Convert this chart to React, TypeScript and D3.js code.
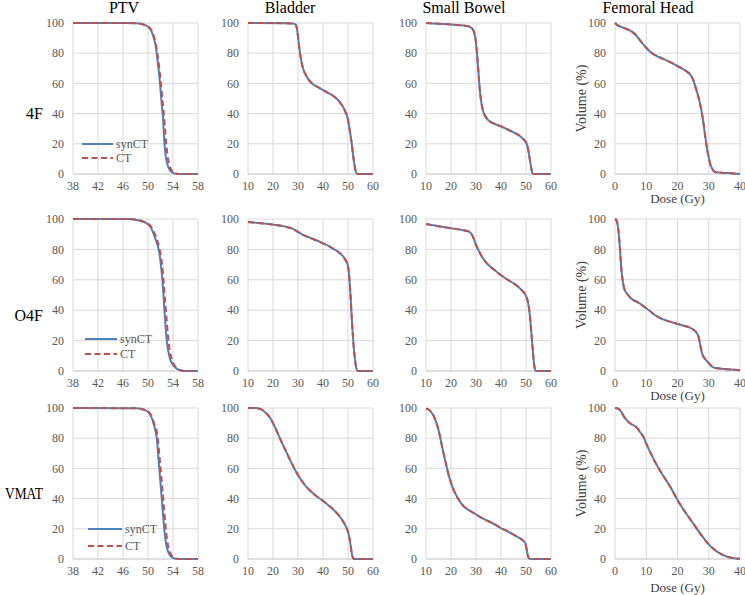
import React from "react";
import * as d3 from "d3";

type Pt = [number, number];

// ---------- Structure labels ----------
const structures = ["PTV", "Bladder", "Small Bowel", "Femoral Head"];
const plans = ["4F", "O4F", "VMAT"];
const seriesNames = ["synCT", "CT"];

// ---------- Axis ticks ----------
const ptvTicks = [38, 42, 46, 50, 54, 58];
const oarTicks = [10, 20, 30, 40, 50, 60];
const femTicks = [0, 10, 20, 30, 40];
const volTicks = [0, 20, 40, 60, 80, 100];

// ---------- PTV ----------
const ptv4F_synCT: Pt[] = [[38,100],[46,100],[48,99.8],[49,99.3],[50,97.5],[50.5,95],[51,89],[51.3,83],[51.5,76],[51.8,65],[52,56],[52.2,46],[52.4,37],[52.6,22],[52.8,13],[53,8],[53.3,4],[53.6,2],[54,0.8],[54.5,0.2],[55,0],[58,0]];
const ptv4F_CT: Pt[] = [[38,100],[46,100],[48,99.8],[49,99.4],[50,97.8],[50.5,95.5],[51,90.5],[51.3,85],[51.6,77],[52,63],[52.3,50],[52.5,41],[52.7,31],[52.9,21],[53.1,13],[53.4,6],[53.7,3],[54,1.5],[54.5,0.4],[55,0],[58,0]];
const ptvO4F_synCT: Pt[] = [[38,100],[47,100],[48,99.5],[49,98.5],[50,96.5],[50.5,94],[51,89],[51.5,83],[51.8,78],[52,72],[52.3,60],[52.6,42],[52.8,30],[53,20],[53.3,12],[53.6,7],[54,4],[54.5,1.8],[55,0.7],[55.5,0.1],[56,0],[58,0]];
const ptvO4F_CT: Pt[] = [[38,100],[47,100],[48,99.6],[49,98.7],[50,97],[50.5,95],[51,91],[51.5,86],[51.8,81],[52.1,75],[52.4,64],[52.7,48],[53,33],[53.2,23],[53.5,13],[53.8,8],[54.2,4],[54.6,2],[55,0.9],[55.5,0.2],[56,0],[58,0]];
const ptvVMAT_synCT: Pt[] = [[38,100],[48,99.8],[49,99.3],[50,97.5],[50.5,94.5],[51,88],[51.4,80],[51.8,60],[52.2,40],[52.6,20],[52.9,10],[53.2,5],[53.6,2],[54,0.8],[54.6,0.1],[55,0],[58,0]];
const ptvVMAT_CT: Pt[] = [[38,100],[48,99.8],[49,99.4],[50,97.8],[50.5,95.2],[51,89.5],[51.5,82],[51.9,65],[52.3,47],[52.6,32],[52.9,18],[53.2,9],[53.5,4.5],[53.9,1.8],[54.3,0.6],[55,0],[58,0]];

// ---------- Bladder ----------
const bladder4F: Pt[] = [[10,100],[25,99.9],[28,99.6],[29,99],[29.5,97],[30,91],[30.5,84],[31,78],[32,70],[33,66],[34,63],[36,59.5],[38,57.5],[40,55.6],[42,53.8],[44,51.8],[46,49],[47,47],[48,44.5],[49,41],[50,36],[50.5,31],[51,26],[51.5,20],[52,13],[52.5,7],[53,2.5],[53.5,0.2],[54,0],[60,0]];
const bladderO4F: Pt[] = [[10,98],[15,97.2],[20,96.3],[25,95],[28,93.5],[30,91.5],[32,89.5],[35,87.5],[38,85.5],[40,84],[42,82.5],[44,80.5],[46,78.5],[48,75.5],[49,73],[50,69],[50.5,62],[51,50],[51.5,35],[52,22],[52.5,12],[53,5],[53.5,1],[54,0],[60,0]];
const bladderVMAT: Pt[] = [[10,100],[13,100],[15,99.3],[17,97],[19,93],[21,86.5],[23,79],[25,72],[27,65],[29,58.5],[31,53],[33,48.5],[35,45],[37,42],[40,38.5],[42,35.8],[44,33],[46,29.5],[47,27.5],[48,25],[49,22],[50,18],[50.8,12],[51.3,6],[51.8,1.5],[52.3,0.2],[53,0],[60,0]];

// ---------- Small Bowel ----------
const bowel4F: Pt[] = [[10,100],[15,99.5],[20,99],[25,98.3],[27,97.8],[28,97],[29,95],[29.5,92],[30,87],[30.5,78],[31,67],[31.5,56],[32,49],[32.5,44],[33,41],[34,37.5],[35,35.5],[37,33.5],[40,31.5],[43,29.2],[45,27.6],[47,25.8],[48,24.5],[49,23],[50,21],[50.5,19],[51,15],[51.5,10],[52,5],[52.4,1.5],[52.7,0],[60,0]];
const bowelO4F: Pt[] = [[10,96.7],[15,95.2],[20,93.9],[25,92.6],[27,91.8],[28,90.5],[29,87.5],[30,83],[31,79.5],[32,76.3],[33,73.5],[34,71.5],[35,69.7],[37,67],[40,63],[43,59.7],[45,57.7],[47,55.2],[48,53.7],[49,52],[50,49.5],[50.7,46],[51.3,40],[51.8,32],[52.3,22],[52.8,12],[53.2,5],[53.6,1],[54,0],[60,0]];
const bowelVMAT: Pt[] = [[10,99.5],[11,99],[12,97.5],[13,95],[14,91],[15,85.5],[16,78],[17,70],[18,63],[19,56],[20,50.5],[21,46],[22,42.5],[23,39.5],[25,35],[27,32.5],[30,29.5],[33,26.5],[35,25],[38,22.5],[40,20.5],[43,18],[45,16.2],[47,14.3],[48,13.3],[49,12],[49.8,10],[50.3,6],[50.7,2.5],[51.2,0.5],[52,0],[60,0]];

// ---------- Femoral Head ----------
const femur4F: Pt[] = [[0,100],[1,98.2],[2,97.4],[3,96.6],[4,95.8],[5,94.8],[6,93.3],[7,91.3],[8,88.5],[9,86],[10,83.6],[11,81.5],[12,79.8],[13,78.5],[15,76.6],[17,74.8],[20,71.5],[22,69.2],[23,67.8],[24,66],[25,62.5],[26,56],[27,48.5],[28,38],[29,23],[29.5,16],[30,11],[30.5,6.5],[31,4],[31.5,2.2],[32,1.3],[34,0.9],[36,0.6],[38,0.3],[40,0]];
const femurO4F: Pt[] = [[0,100],[0.5,99],[1,94],[1.5,83],[2,68],[2.5,59],[3,54],[4,50.5],[5,48],[6,46.5],[7,45.5],[8,44.3],[9,42.8],[10,41.3],[11,39.8],[12,38],[13,36.5],[14,35.3],[15,34.3],[17,32.8],[20,31],[22,29.8],[24,28.5],[25,27.3],[26,25.5],[26.8,22],[27.3,17],[27.8,12],[28.3,9.5],[29,7.5],[30,5.2],[31,3],[32,2],[34,1.5],[37,1],[40,0.5]];
const femurVMAT: Pt[] = [[0,100],[1,99.6],[2,97.4],[3,94],[4,91.4],[5,89.6],[6,88.5],[7,87],[8,84.1],[9,81.3],[10,76.4],[12,67.6],[14,59.9],[16,53.3],[18,46.7],[20,39],[22,32.4],[25,23.6],[28,14.8],[30,9.7],[32,5.9],[34,3.3],[36,1.5],[38,0.5],[40,0.1]];

// ---------- Panel table ----------
const domains: [number, number][] = [[38, 58], [10, 60], [10, 60], [0, 40]];
const tickSets = [ptvTicks, oarTicks, oarTicks, femTicks];
const synData: Pt[][][] = [
  [ptv4F_synCT, bladder4F, bowel4F, femur4F],
  [ptvO4F_synCT, bladderO4F, bowelO4F, femurO4F],
  [ptvVMAT_synCT, bladderVMAT, bowelVMAT, femurVMAT],
];
const ctData: Pt[][][] = [
  [ptv4F_CT, bladder4F, bowel4F, femur4F],
  [ptvO4F_CT, bladderO4F, bowelO4F, femurO4F],
  [ptvVMAT_CT, bladderVMAT, bowelVMAT, femurVMAT],
];

// layout
const W = 745, H = 595;
const colX = [73, 248, 426, 615];
const plotW = 125;
const rowY: [number, number][] = [[23, 174], [219, 371], [408, 559]];
const titleX = [124, 290, 464, 648];
const doseLabelDy = [29, 29, 33];
const legendPos = [
  { x0: 82, x1: 113, y: 144, dy: 14 },
  { x0: 85, x1: 117, y: 339, dy: 15 },
  { x0: 88, x1: 122, y: 529, dy: 17 },
];

const BLUE = "#4f81bd";
const RED = "#c0504d";
const GRID = "#d9d9d9";
const TXT = "#595959";
const FONT = "Liberation Serif";
const fontStyle = { fontFamily: FONT };

function Panel({ r, c }: { r: number; c: number }) {
  const [top, bottom] = rowY[r];
  const x = d3.scaleLinear().domain(domains[c]).range([colX[c], colX[c] + plotW]);
  const y = d3.scaleLinear().domain([0, 100]).range([bottom, top]);
  const line = d3
    .line<Pt>()
    .x((d) => x(d[0]))
    .y((d) => y(d[1]))
    .curve(d3.curveMonotoneX);
  const ticks = tickSets[c];
  const lp = legendPos[r];
  return (
    <g>
      {ticks.map((t) => (
        <line key={"vx" + t} x1={x(t)} x2={x(t)} y1={top} y2={bottom} stroke={GRID} strokeWidth={1} />
      ))}
      {volTicks.map((t) => (
        <line key={"hy" + t} x1={x.range()[0]} x2={x.range()[1]} y1={y(t)} y2={y(t)} stroke={t === 0 ? "#bfbfbf" : GRID} strokeWidth={1} />
      ))}
      {ticks.map((t) => (
        <text key={"tx" + t} x={x(t)} y={bottom + 16} textAnchor="middle" fontSize={12} fill={TXT} style={fontStyle}>
          {t}
        </text>
      ))}
      {volTicks.map((t) => (
        <text key={"ty" + t} x={colX[c] - 9} y={y(t)} dy="0.35em" textAnchor="end" fontSize={12} fill={TXT} style={fontStyle}>
          {t}
        </text>
      ))}
      <path d={line(synData[r][c]) || ""} fill="none" stroke={BLUE} strokeWidth={2} />
      <path d={line(ctData[r][c]) || ""} fill="none" stroke={RED} strokeWidth={2} strokeDasharray="6,3.5" />
      {c === 3 && (
        <>
          <text
            transform={`translate(${colX[c] - 29},${(top + bottom) / 2}) rotate(-90)`}
            textAnchor="middle"
            fontSize={14}
            fill="#404040"
            style={fontStyle}
          >
            Volume (%)
          </text>
          <text x={colX[c] + plotW / 2} y={bottom + doseLabelDy[r]} textAnchor="middle" fontSize={13} fill="#404040" style={fontStyle}>
            Dose (Gy)
          </text>
        </>
      )}
      {c === 0 && (
        <g>
          <line x1={lp.x0} x2={lp.x1} y1={lp.y} y2={lp.y} stroke={BLUE} strokeWidth={2} />
          <text x={lp.x1 + 3} y={lp.y} dy="0.35em" fontSize={12} fill={TXT} style={fontStyle}>
            {seriesNames[0]}
          </text>
          <line x1={lp.x0} x2={lp.x1} y1={lp.y + lp.dy} y2={lp.y + lp.dy} stroke={RED} strokeWidth={2} strokeDasharray="6,3.5" />
          <text x={lp.x1 + 3} y={lp.y + lp.dy} dy="0.35em" fontSize={12} fill={TXT} style={fontStyle}>
            {seriesNames[1]}
          </text>
        </g>
      )}
    </g>
  );
}

export default function App() {
  const rowLabelY = [113, 315, 493];
  return (
    <svg width={W} height={H} style={{ position: "absolute", left: 0, top: 0, background: "#fff" }}>
      <rect width={W} height={H} fill="#fff" />
      {structures.map((s, c) => (
        <text key={s} x={titleX[c]} y={13} textAnchor="middle" fontSize={16} fill="#000" style={fontStyle}>
          {s}
        </text>
      ))}
      {plans.map((p, r) => (
        <text
          key={p}
          x={43}
          y={rowLabelY[r]}
          dy="0.35em"
          textAnchor="end"
          fontSize={16}
          fill="#000"
          style={fontStyle}
          {...(p === "VMAT" ? { textLength: 38, lengthAdjust: "spacingAndGlyphs" } : {})}
        >
          {p}
        </text>
      ))}
      {plans.map((_, r) => structures.map((__, c) => <Panel key={r + "-" + c} r={r} c={c} />))}
    </svg>
  );
}
